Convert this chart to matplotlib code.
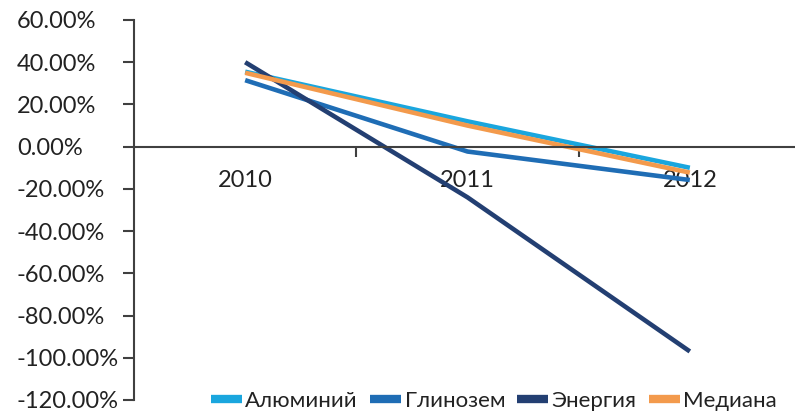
import matplotlib
matplotlib.use("Agg")
import matplotlib.pyplot as plt
from matplotlib.ticker import FixedLocator, NullFormatter

plt.rcParams['font.family'] = ['Lato', 'DejaVu Sans']

years = ['2010', '2011', '2012']
aluminium = [35.5, 12.0, -10.0]
alumina = [31.5, -2.3, -15.8]
energy = [40.0, -24.0, -97.0]
median = [35.0, 10.0, -12.3]

series = [
    ('Алюминий', aluminium, '#1aa6de'),
    ('Глинозем', alumina, '#1f6db5'),
    ('Энергия', energy, '#233f72'),
    ('Медиана', median, '#f39a4c'),
]

yticks = [60, 40, 20, 0, -20, -40, -60, -80, -100, -120]
axis_col = '#404040'
text_col = '#222222'
fs = 17

fig = plt.figure(figsize=(7.95, 4.13), dpi=100)
ax = fig.add_axes([134 / 795, 1 - 400 / 413, 667 / 795, 380 / 413])

x = list(range(len(years)))
handles = []
for name, vals, col in series:
    h, = ax.plot(x, vals, color=col, lw=3.3, solid_capstyle='butt', label=name)
    handles.append(h)

ax.set_xlim(-0.5, 2.5)
ax.set_ylim(-120, 60)

for s in ['top', 'right']:
    ax.spines[s].set_visible(False)
ax.spines['bottom'].set_position(('data', 0))
for s in ['left', 'bottom']:
    ax.spines[s].set_color(axis_col)
    ax.spines[s].set_linewidth(1.5)

# category boundaries get the tick marks, year labels sit in between
ax.xaxis.set_major_locator(FixedLocator([0.5, 1.5]))
ax.xaxis.set_major_formatter(NullFormatter())
ax.xaxis.set_minor_locator(FixedLocator(x))
ax.set_xticklabels(years, minor=True)
ax.tick_params(axis='x', which='major', length=7, width=1.5, color=axis_col, direction='out')
ax.tick_params(axis='x', which='minor', length=0, pad=17, labelsize=fs, labelcolor=text_col)

ax.set_yticks(yticks)
ax.set_yticklabels(['%.2f%%' % v for v in yticks])
ax.tick_params(axis='y', length=8, width=1.5, color=axis_col, direction='out',
               labelsize=fs, labelcolor=text_col, pad=0)
# left-aligned percentage labels
for lab in ax.get_yticklabels():
    lab.set_horizontalalignment('left')
    lab.set_transform(ax.get_yaxis_transform())
    lab.set_x(-117 / 667)

leg = fig.legend(handles=handles, loc='center', bbox_to_anchor=(494 / 795, 1 - 401 / 413),
                 ncol=4, frameon=False, fontsize=16, handlelength=1.4, handletextpad=0.15,
                 columnspacing=0.55, borderaxespad=0, borderpad=0)
for lh in leg.get_lines():
    lh.set_linewidth(6)
for t in leg.get_texts():
    t.set_color(text_col)

fig.savefig('out.png', dpi=100)
